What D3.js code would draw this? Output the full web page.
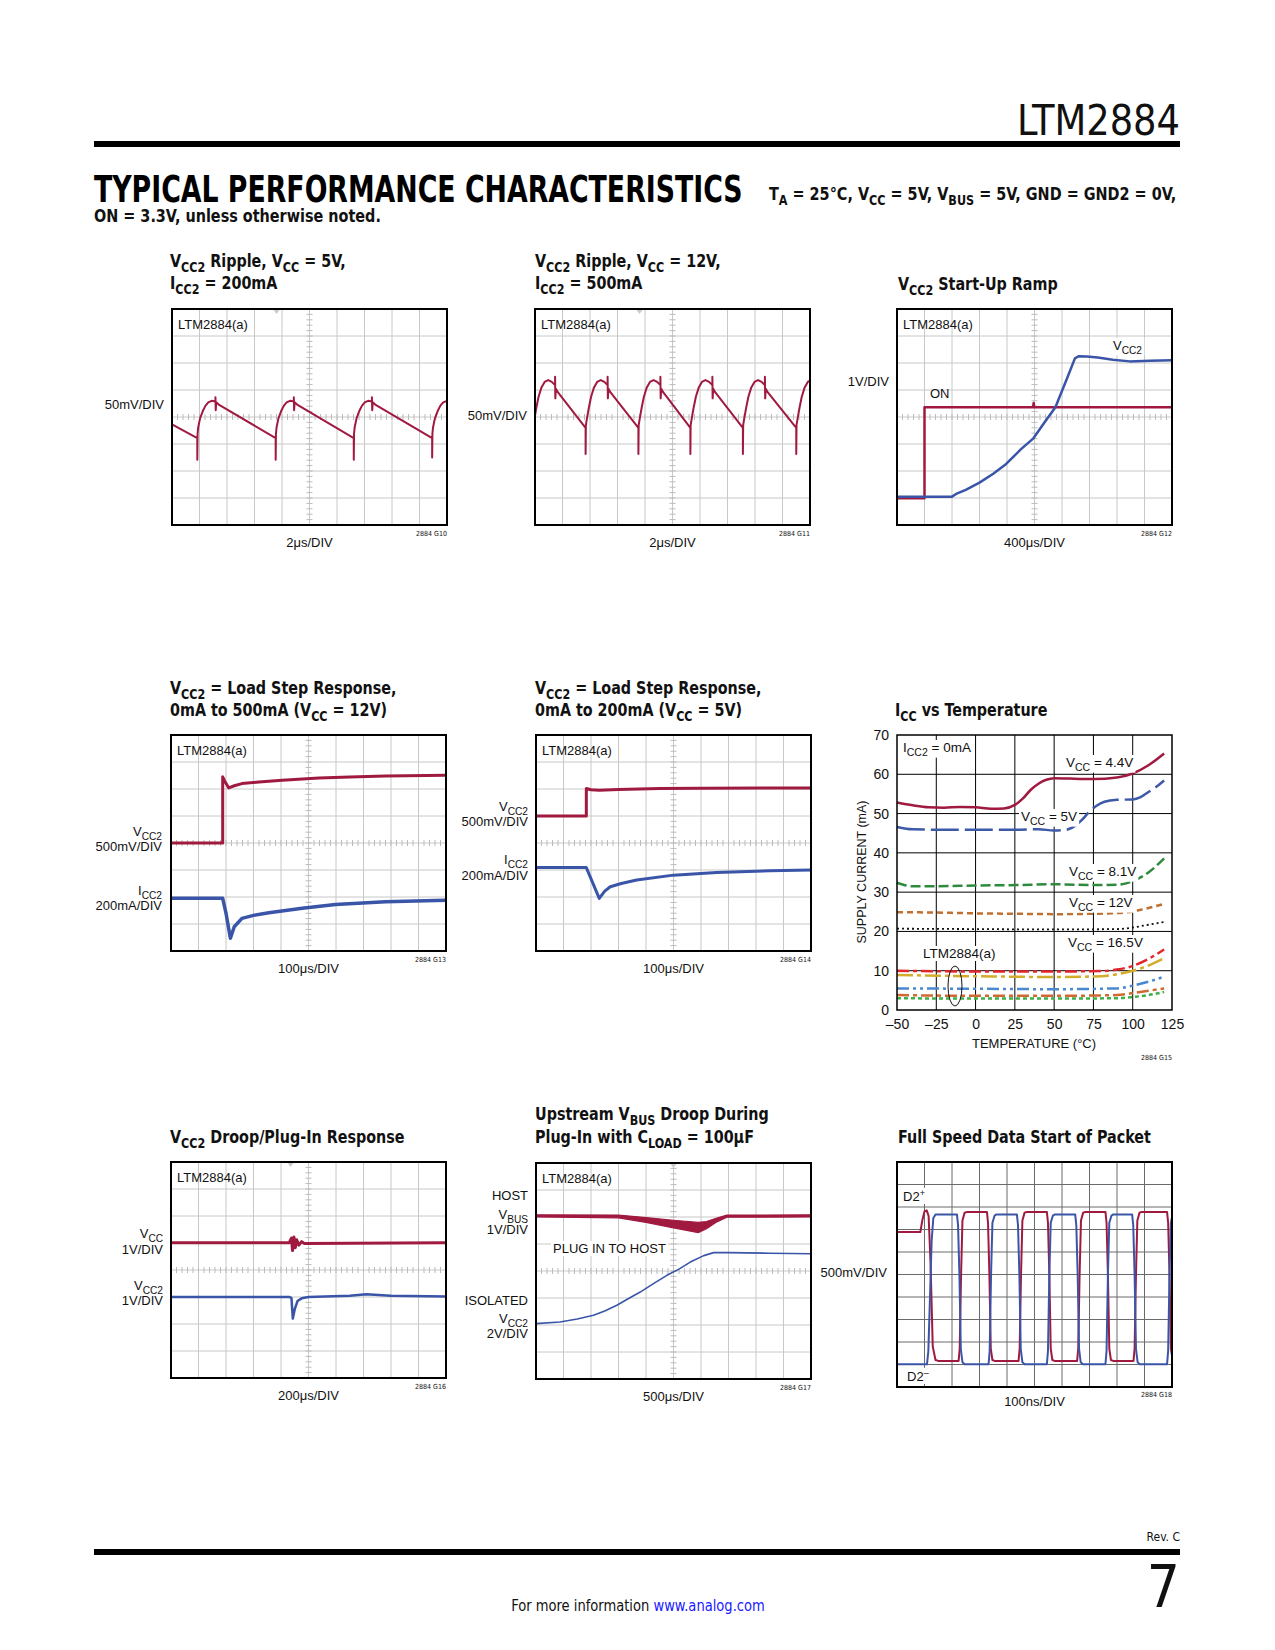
<!DOCTYPE html>
<html><head><meta charset="utf-8">
<script src="https://cdn.jsdelivr.net/npm/d3@7"></script>
<style>
body{margin:0;background:#fff;}
svg text{font-family:"Liberation Sans Narrow","DejaVu Sans Condensed","Liberation Sans",sans-serif;}
.lbl{font-family:"Liberation Sans","DejaVu Sans",sans-serif !important;}
</style></head><body>
<svg id="page" width="1275" height="1650"></svg>
<script>
// ---------------- DATA (x in divisions 0..10, y in divisions from centre) ----------------
const ripple5V = [[0,-0.27],
 [0.92,-0.78],[0.92,-1.58],[0.93,-0.62],[0.95,-0.4],[1.02,-0.05],[1.12,0.22],[1.22,0.42],[1.32,0.54],[1.44,0.6],[1.54,0.58],[1.58,0.56],[1.58,0.73],[1.59,0.25],[1.61,0.55],[1.70,0.46],
 [3.77,-0.78],[3.77,-1.58],[3.78,-0.62],[3.80,-0.4],[3.87,-0.05],[3.97,0.22],[4.07,0.42],[4.17,0.54],[4.29,0.6],[4.39,0.58],[4.43,0.56],[4.43,0.73],[4.44,0.25],[4.46,0.55],[4.55,0.46],
 [6.61,-0.78],[6.61,-1.58],[6.62,-0.62],[6.64,-0.4],[6.71,-0.05],[6.81,0.22],[6.91,0.42],[7.01,0.54],[7.13,0.6],[7.23,0.58],[7.27,0.56],[7.27,0.73],[7.28,0.25],[7.30,0.55],[7.39,0.46],
 [9.46,-0.78],[9.46,-1.5],[9.47,-0.62],[9.49,-0.4],[9.56,-0.05],[9.66,0.22],[9.76,0.42],[9.86,0.54],[10,0.6]];

const ripple12V = [[0,0.05],[0.05,0.35],[0.13,0.75],[0.23,1.08],[0.35,1.3],[0.48,1.37],[0.61,1.3],[0.73,1.18],[0.73,1.49],[0.74,0.69],[0.76,1.05],[0.83,0.92],
 [1.84,-0.4],[1.84,-1.37],[1.85,-0.3],[1.89,-0.05],[1.96,0.35],[2.04,0.75],[2.14,1.08],[2.26,1.3],[2.39,1.37],[2.52,1.3],[2.64,1.18],[2.64,1.49],[2.65,0.69],[2.67,1.05],[2.74,0.92],
 [3.76,-0.4],[3.76,-1.37],[3.77,-0.3],[3.81,-0.05],[3.88,0.35],[3.96,0.75],[4.06,1.08],[4.18,1.3],[4.31,1.37],[4.44,1.3],[4.56,1.18],[4.56,1.49],[4.57,0.69],[4.59,1.05],[4.66,0.92],
 [5.65,-0.4],[5.65,-1.37],[5.66,-0.3],[5.70,-0.05],[5.77,0.35],[5.85,0.75],[5.95,1.08],[6.07,1.3],[6.20,1.37],[6.33,1.3],[6.45,1.18],[6.45,1.49],[6.46,0.69],[6.48,1.05],[6.55,0.92],
 [7.56,-0.4],[7.56,-1.37],[7.57,-0.3],[7.61,-0.05],[7.68,0.35],[7.76,0.75],[7.86,1.08],[7.98,1.3],[8.11,1.37],[8.24,1.3],[8.36,1.18],[8.36,1.49],[8.37,0.69],[8.39,1.05],[8.46,0.92],
 [9.5,-0.4],[9.5,-1.37],[9.51,-0.3],[9.55,-0.05],[9.62,0.35],[9.70,0.75],[9.80,1.08],[9.92,1.3],[10,1.35]];

const startOn = [[0,-3.01],[1.0,-3.01],[1.0,0.36],[4.95,0.36],[4.97,0.52],[4.99,0.36],[10,0.36]];
const startVcc2 = [[0,-2.95],[2.0,-2.95],[2.15,-2.85],[2.5,-2.7],[3.0,-2.43],[3.5,-2.1],[3.97,-1.74],[4.5,-1.2],[4.96,-0.79],[5.4,-0.15],[5.76,0.36],[6.16,1.37],[6.47,2.17],[6.6,2.25],[6.9,2.24],[7.3,2.2],[7.85,2.12],[8.46,2.06],[9.2,2.08],[10,2.1]];

const step12Vcc2 = [[0,0],[1.88,0],[1.88,2.45],[1.95,2.3],[2.1,2.04],[2.3,2.12],[2.58,2.2],[3.2,2.26],[4.04,2.32],[5.38,2.41],[6.5,2.44],[7.8,2.48],[10,2.51]];
const step12Icc2 = [[0,-2.05],[1.88,-2.05],[2.0,-2.6],[2.16,-3.53],[2.3,-3.1],[2.58,-2.79],[3.0,-2.68],[3.56,-2.58],[4.77,-2.42],[5.98,-2.28],[7.8,-2.18],[10,-2.12]];

const step5Vcc2 = [[0,1.0],[1.83,1.0],[1.83,2.02],[2.0,1.97],[2.3,1.95],[3.0,1.98],[4.5,2.02],[6.0,2.03],[10,2.04]];
const step5Icc2 = [[0,-0.91],[1.83,-0.91],[2.3,-2.05],[2.5,-1.78],[2.7,-1.62],[3.1,-1.5],[3.66,-1.37],[5.0,-1.19],[6.57,-1.09],[8.5,-1.03],[10,-1.0]];

const droopVcc = [[0,1.01],[4.3,1.01],[4.38,1.18],[4.42,0.72],[4.47,1.22],[4.52,0.82],[4.57,1.12],[4.65,0.92],[4.75,1.05],[4.85,0.98],[10,1.01]];
const droopVcc2 = [[0,-1.0],[4.3,-1.0],[4.38,-1.03],[4.43,-1.8],[4.5,-1.45],[4.6,-1.15],[4.75,-1.05],[5.0,-1.0],[6.5,-0.95],[7.1,-0.9],[8.0,-0.95],[10,-0.98]];

const hostVbusUpper = [[0,2.08],[3,2.07],[4,1.98],[5,1.88],[5.9,1.8],[6.2,1.83],[6.58,1.96],[6.94,2.07],[10,2.08]];
const hostVbusLower = [[0,2.0],[3,1.97],[4,1.8],[5,1.6],[5.9,1.42],[6.2,1.57],[6.58,1.82],[6.94,1.99],[10,2.0]];
const isoVcc2 = [[0,-1.95],[0.87,-1.89],[1.5,-1.78],[2.09,-1.64],[2.5,-1.48],[2.94,-1.27],[3.4,-1.0],[3.79,-0.78],[4.3,-0.45],[4.76,-0.16],[5.2,0.07],[5.61,0.33],[6.1,0.57],[6.46,0.68],[7.0,0.68],[8.5,0.66],[10,0.64]];

const dataDplus = [[0,1.89],[0.85,1.89],[0.92,2.4],[1.0,2.8],[1.08,2.85],[1.15,2.6],[1.22,0.5],[1.3,-3.2],[1.4,-3.8],[1.5,-3.84],
 [2.24,-3.84],[2.28,-3.3],[2.33,0],[2.38,2.4],[2.46,2.75],[2.55,2.78],
 [3.27,2.78],[3.31,2.3],[3.36,0],[3.41,-3.3],[3.47,-3.8],[3.55,-3.84],
 [4.42,-3.84],[4.46,-3.3],[4.51,0],[4.56,2.4],[4.64,2.75],[4.72,2.78],
 [5.45,2.78],[5.49,2.3],[5.54,0],[5.59,-3.3],[5.65,-3.8],[5.73,-3.84],
 [6.55,-3.84],[6.59,-3.3],[6.64,0],[6.69,2.4],[6.77,2.75],[6.85,2.78],
 [7.58,2.78],[7.62,2.3],[7.67,0],[7.72,-3.3],[7.78,-3.8],[7.86,-3.84],
 [8.6,-3.84],[8.64,-3.3],[8.69,0],[8.74,2.4],[8.82,2.75],[8.9,2.78],
 [9.82,2.78],[9.86,2.3],[9.91,0],[9.96,-3.3],[10,-3.6]];
const dataDminus = [[0,-3.99],[1.09,-3.99],[1.14,-3.4],[1.2,-1],[1.26,1.5],[1.32,2.5],[1.4,2.67],
 [2.18,2.67],[2.22,2.2],[2.27,0],[2.32,-3.3],[2.38,-3.9],[2.46,-3.99],
 [3.33,-3.99],[3.37,-3.4],[3.42,0],[3.47,2.3],[3.55,2.62],[3.62,2.67],
 [4.36,2.67],[4.4,2.2],[4.45,0],[4.5,-3.3],[4.56,-3.9],[4.64,-3.99],
 [5.45,-3.99],[5.49,-3.4],[5.54,0],[5.59,2.3],[5.67,2.62],[5.74,2.67],
 [6.48,2.67],[6.52,2.2],[6.57,0],[6.62,-3.3],[6.68,-3.9],[6.76,-3.99],
 [7.58,-3.99],[7.62,-3.4],[7.67,0],[7.72,2.3],[7.8,2.62],[7.87,2.67],
 [8.55,2.67],[8.59,2.2],[8.64,0],[8.69,-3.3],[8.75,-3.9],[8.83,-3.99],
 [9.82,-3.99],[9.86,-3.4],[9.91,0],[9.96,2.3],[10,2.55]];

// Icc vs temperature: [temperature °C, supply current mA]
const iccVcc44 = [[-50,52.8],[-40,52.1],[-30,51.6],[-20,51.5],[-10,51.7],[0,51.6],[10,51.2],[18,51.3],[25,52.2],[30,53.8],[35,56],[40,57.6],[45,58.6],[50,59],[60,58.9],[75,58.8],[90,59.2],[100,60.2],[110,62.3],[120,65.3]];
const iccVcc5 = [[-50,46.6],[-40,46],[-25,45.9],[0,45.9],[25,45.9],[40,46],[50,45.7],[58,45.9],[63,46.8],[68,48.5],[72,50.3],[77,52],[82,53],[90,53.5],[100,53.6],[105,54.2],[110,55.5],[115,56.8],[120,58.4]];
const iccVcc81 = [[-50,32.4],[-40,31.5],[-25,31.5],[0,31.7],[25,31.8],[50,32],[75,31.8],[90,31.9],[100,32.8],[110,35],[120,38.6]];
const iccVcc12 = [[-50,24.9],[-25,24.8],[0,24.6],[25,24.5],[50,24.4],[75,24.5],[95,24.8],[105,25.5],[120,27]];
const iccVcc165 = [[-50,20.7],[0,20.6],[50,20.5],[90,20.6],[100,21],[110,21.7],[120,22.4]];
const iccA1 = [[-50,10],[0,9.8],[50,9.8],[80,9.9],[90,10.3],[100,11.2],[110,13],[120,15.4]];
const iccA2 = [[-50,8.9],[0,8.6],[50,8.4],[80,8.6],[90,9.1],[100,10],[110,11.3],[120,13.2]];
const iccA3 = [[-50,5.5],[0,5.4],[50,5.3],[90,5.5],[100,6.2],[110,7.2],[120,8.5]];
const iccA4 = [[-50,3.8],[0,3.6],[50,3.6],[90,3.8],[100,4.3],[110,4.9],[120,5.5]];
const iccA5 = [[-50,3.0],[0,2.9],[50,2.9],[90,3.0],[100,3.3],[110,3.8],[120,4.6]];
const tempTicks = [-50,-25,0,25,50,75,100,125];
const currentTicks = [0,10,20,30,40,50,60,70];

// ---------------- DRAWING ----------------
const RED = "#a01a40", BLUE = "#3a55a8";
const svg = d3.select("#page");
const TSCALE = 0.885;

function squeeze(t, x, s) { t.attr("transform", `translate(${x * (1 - s)},0) scale(${s},1)`); return t; }
function rich(sel, x, y, str, size, anchor, weight, cls) {
  const t = sel.append("text").attr("x", x).attr("y", y).attr("font-size", size)
    .attr("text-anchor", anchor || "start").attr("font-weight", weight || "normal").attr("fill", "#111");
  if (cls) t.attr("class", cls);
  const parts = str.split(/(_\{[^}]*\}|\^\{[^}]*\})/).filter(s => s.length);
  let shift = 0;
  parts.forEach(p => {
    let target = 0, txt = p, fs = null;
    if (p.startsWith("_{")) { target = size * 0.27; txt = p.slice(2, -1); fs = size * 0.78; }
    else if (p.startsWith("^{")) { target = -size * 0.4; txt = p.slice(2, -1); fs = size * 0.7; }
    const ts = t.append("tspan").attr("dy", target - shift).text(txt);
    if (fs) ts.attr("font-size", fs);
    shift = target;
  });
  return t;
}
function bg(textSel, pad) {
  const b = textSel.node().getBBox();
  const r = document.createElementNS("http://www.w3.org/2000/svg", "rect");
  textSel.node().parentNode.insertBefore(r, textSel.node());
  d3.select(r).attr("x", b.x - pad).attr("y", b.y).attr("width", b.width + 2 * pad)
    .attr("height", b.height).attr("fill", "#fff");
}

// Header
const hdr = svg.append("text").attr("x", 1180).attr("y", 135).attr("text-anchor", "end").attr("font-size", 43)
  .attr("fill", "#111").text("LTM2884");
squeeze(hdr, 1180, 163 / hdr.node().getBBox().width);
svg.append("rect").attr("x", 94).attr("y", 141).attr("width", 1086).attr("height", 6).attr("fill", "#000");
const big = svg.append("text").attr("x", 94).attr("y", 202).attr("font-size", 38).attr("font-weight", "bold")
  .attr("fill", "#000").text("TYPICAL PERFORMANCE CHARACTERISTICS");
squeeze(big, 94, 649 / big.node().getBBox().width);
squeeze(rich(svg, 769, 200, "T_{A} = 25°C, V_{CC} = 5V, V_{BUS} = 5V, GND = GND2 = 0V,", 17.5, "start", "bold"), 769, 0.915);
squeeze(rich(svg, 94, 222, "ON = 3.3V, unless otherwise noted.", 17.5, "start", "bold"), 94, 0.915);

// Footer
svg.append("text").attr("x", 1180).attr("y", 1541).attr("text-anchor", "end").attr("font-size", 12).attr("fill", "#111").text("Rev. C");
svg.append("rect").attr("x", 94).attr("y", 1549).attr("width", 1086).attr("height", 6).attr("fill", "#000");
svg.append("text").attr("x", 1180).attr("y", 1607).attr("text-anchor", "end").attr("font-size", 58).attr("fill", "#111").text("7");
const ft = svg.append("text").attr("x", 638).attr("y", 1611).attr("text-anchor", "middle").attr("font-size", 16).attr("fill", "#111");
ft.append("tspan").text("For more information ");
ft.append("tspan").attr("fill", "#1a1aff").text("www.analog.com");
squeeze(ft, 638, 0.91);

function title(x, y, str) { squeeze(rich(svg, x, y, str, 18, "start", "bold"), x, TSCALE); }

const W = 275;
function scope(c) {
  const g = svg.append("g");
  const ydiv = c.ydiv || 8;
  const x = d3.scaleLinear().domain([0, 10]).range([c.x, c.x + W]);
  const y = d3.scaleLinear().domain([-ydiv / 2, ydiv / 2]).range([c.y + c.h, c.y]);
  const gc = c.gridColor || "#c8c8c8";
  g.selectAll("line.vg").data(d3.range(1, 10)).join("line").attr("x1", d => x(d)).attr("x2", d => x(d))
    .attr("y1", c.y).attr("y2", c.y + c.h).attr("stroke", gc).attr("stroke-width", 1);
  g.selectAll("line.hg").data(d3.range(-ydiv / 2 + 1, ydiv / 2)).join("line").attr("y1", d => y(d)).attr("y2", d => y(d))
    .attr("x1", c.x).attr("x2", c.x + W).attr("stroke", gc).attr("stroke-width", 1);
  if (!c.noMinor) {
    g.selectAll("line.mx").data(d3.range(0, 50)).join("line").attr("x1", d => x(d * 0.2)).attr("x2", d => x(d * 0.2))
      .attr("y1", y(0) - 3).attr("y2", y(0) + 3).attr("stroke", "#bbb");
    g.selectAll("line.my").data(d3.range(0, ydiv * 5)).join("line").attr("y1", d => y(-ydiv / 2 + d * 0.2)).attr("y2", d => y(-ydiv / 2 + d * 0.2))
      .attr("x1", x(5) - 3).attr("x2", x(5) + 3).attr("stroke", "#bbb");
  }
  if (c.trig != null) {
    g.append("path").attr("d", `M${x(c.trig) - 3},${c.y + 1}L${x(c.trig) + 3},${c.y + 1}L${x(c.trig)},${c.y + 5}Z`).attr("fill", "#ccc");
  }
  const line = d3.line().x(d => x(d[0])).y(d => y(d[1]));
  (c.areas || []).forEach(a => {
    const lo = a.lower;
    const area = d3.area().x(d => x(d[0])).y1(d => y(d[1])).y0((d, i) => y(lo[i][1]));
    g.append("path").datum(a.upper).attr("d", area).attr("fill", a.color).attr("stroke", a.color).attr("stroke-width", 1.2);
  });
  c.traces.forEach(t => {
    g.append("path").datum(t.data).attr("d", line.curve(t.curve || d3.curveLinear)).attr("fill", "none")
      .attr("stroke", t.color).attr("stroke-width", t.w || 2).attr("stroke-linejoin", "round");
  });
  g.append("rect").attr("x", c.x).attr("y", c.y).attr("width", W).attr("height", c.h)
    .attr("fill", "none").attr("stroke", "#000").attr("stroke-width", 2);
  if (c.tag !== false) rich(g, c.x + 6, c.y + 20, "LTM2884(a)", 13, "start", "normal", "lbl");
  c.title.forEach((t, i) => title(c.tx, c.ty[i], t));
  rich(svg, c.x + W / 2, c.y + c.h + c.xlOff, c.xlab, 13, "middle", "normal", "lbl");
  svg.append("text").attr("x", c.x + W).attr("y", c.y + c.h + c.fnOff).attr("text-anchor", "end")
    .attr("font-size", 7).attr("fill", "#111").text("2884 " + c.id);
  (c.ylabels || []).forEach(l => rich(svg, c.x - (c.ylOff || 8), l[1], l[0], 13, "end", "normal", "lbl"));
  (c.inner || []).forEach(l => { const t = rich(g, l[0], l[1], l[2], 13, "start", "normal", "lbl"); if (l[3]) bg(t, 2); });
}

scope({ id: "G10", x: 172, y: 309, h: 216, tx: 170, ty: [267, 289], title: ["V_{CC2} Ripple, V_{CC} = 5V,", "I_{CC2} = 200mA"],
  xlab: "2μs/DIV", xlOff: 22, fnOff: 11, trig: 3.8, traces: [{ data: ripple5V, color: RED, w: 2 }], ylabels: [["50mV/DIV", 409]] });
scope({ id: "G11", x: 535, y: 309, h: 216, tx: 535, ty: [267, 289], title: ["V_{CC2} Ripple, V_{CC} = 12V,", "I_{CC2} = 500mA"],
  xlab: "2μs/DIV", xlOff: 22, fnOff: 11, trig: 3.8, traces: [{ data: ripple12V, color: RED, w: 2 }], ylabels: [["50mV/DIV", 420]] });
scope({ id: "G12", x: 897, y: 309, h: 216, tx: 898, ty: [290], title: ["V_{CC2} Start-Up Ramp"],
  xlab: "400μs/DIV", xlOff: 22, fnOff: 11, traces: [{ data: startOn, color: RED, w: 2.5 }, { data: startVcc2, color: BLUE, w: 2.5 }],
  ylabels: [["1V/DIV", 386]], inner: [[1113, 350, "V_{CC2}", true], [930, 398, "ON", false]] });
scope({ id: "G13", x: 171, y: 735, h: 216, tx: 170, ty: [694, 716], title: ["V_{CC2} = Load Step Response,", "0mA to 500mA (V_{CC} = 12V)"],
  xlab: "100μs/DIV", xlOff: 22, fnOff: 11, traces: [{ data: step12Vcc2, color: RED, w: 3 }, { data: step12Icc2, color: BLUE, w: 3.5 }],
  ylOff: 9, ylabels: [["V_{CC2}", 836], ["500mV/DIV", 851], ["I_{CC2}", 895], ["200mA/DIV", 910]] });
scope({ id: "G14", x: 536, y: 735, h: 216, tx: 535, ty: [694, 716], title: ["V_{CC2} = Load Step Response,", "0mA to 200mA (V_{CC} = 5V)"],
  xlab: "100μs/DIV", xlOff: 22, fnOff: 11, traces: [{ data: step5Vcc2, color: RED, w: 3 }, { data: step5Icc2, color: BLUE, w: 3 }],
  ylabels: [["V_{CC2}", 811], ["500mV/DIV", 826], ["I_{CC2}", 864], ["200mA/DIV", 880]] });
scope({ id: "G16", x: 171, y: 1162, h: 216, tx: 170, ty: [1143], title: ["V_{CC2} Droop/Plug-In Response"],
  xlab: "200μs/DIV", xlOff: 22, fnOff: 11, trig: 4.35, traces: [{ data: droopVcc, color: RED, w: 3 }, { data: droopVcc2, color: BLUE, w: 2.5 }],
  ylabels: [["V_{CC}", 1238], ["1V/DIV", 1254], ["V_{CC2}", 1290], ["1V/DIV", 1305]] });
scope({ id: "G17", x: 536, y: 1163, h: 216, tx: 535, ty: [1120, 1143], title: ["Upstream V_{BUS} Droop During", "Plug-In with C_{LOAD} = 100μF"],
  xlab: "500μs/DIV", xlOff: 22, fnOff: 11, trig: 5.0, areas: [{ upper: hostVbusUpper, lower: hostVbusLower, color: RED }],
  traces: [{ data: isoVcc2, color: BLUE, w: 1.6 }],
  ylabels: [["HOST", 1200], ["V_{BUS}", 1219], ["1V/DIV", 1234], ["ISOLATED", 1305], ["V_{CC2}", 1323], ["2V/DIV", 1338]],
  inner: [[553, 1253, "PLUG IN TO HOST", true]] });
scope({ id: "G18", x: 897, y: 1162, h: 225, ydiv: 10, tx: 898, ty: [1143], title: ["Full Speed Data Start of Packet"],
  xlab: "100ns/DIV", xlOff: 19, fnOff: 10, tag: false, noMinor: true, gridColor: "#6a6a6a",
  traces: [{ data: dataDplus, color: RED, w: 2 }, { data: dataDminus, color: BLUE, w: 2 }],
  ylOff: 10, ylabels: [["500mV/DIV", 1277]], inner: [[903, 1201, "D2^{+}", true], [907, 1381, "D2^{–}", true]] });

// ---- Icc vs Temperature ----
(function () {
  const g = svg.append("g");
  const x = d3.scaleLinear().domain([-50, 125]).range([897, 1172]);
  const y = d3.scaleLinear().domain([0, 70]).range([1010, 735]);
  g.selectAll("line.vx").data(tempTicks.slice(1, -1)).join("line").attr("x1", d => x(d)).attr("x2", d => x(d))
    .attr("y1", y(0)).attr("y2", y(70)).attr("stroke", "#000").attr("stroke-width", 1);
  g.selectAll("line.hy").data(currentTicks.slice(1, -1)).join("line").attr("y1", d => y(d)).attr("y2", d => y(d))
    .attr("x1", x(-50)).attr("x2", x(125)).attr("stroke", "#000").attr("stroke-width", 1);
  const series = [
    [iccVcc44, "#a01a40", null, 2.5], [iccVcc5, "#3d5aa8", "28,6", 2.5], [iccVcc81, "#2e8b3e", "10,4", 2.5],
    [iccVcc12, "#c07030", "6,4", 2.5], [iccVcc165, "#111", "2,3", 1.8],
    [iccA1, "#e3262b", "12,4,4,4", 2.5], [iccA2, "#d4ac2c", "16,4,4,4", 2.5], [iccA3, "#4a88d0", "12,4,3,4,3,4", 2.5],
    [iccA4, "#d06a30", "12,4,4,4", 2.5], [iccA5, "#3db04a", "4,3", 2.5]];
  const line = d3.line().x(d => x(d[0])).y(d => y(d[1])).curve(d3.curveMonotoneX);
  series.forEach(s => {
    const p = g.append("path").datum(s[0]).attr("d", line).attr("fill", "none").attr("stroke", s[1]).attr("stroke-width", s[3]);
    if (s[2]) p.attr("stroke-dasharray", s[2]);
  });
  g.append("rect").attr("x", x(-50)).attr("y", y(70)).attr("width", x(125) - x(-50)).attr("height", y(0) - y(70))
    .attr("fill", "none").attr("stroke", "#000").attr("stroke-width", 1.5);
  const xa = g.append("g").attr("transform", `translate(0,${y(0)})`)
    .call(d3.axisBottom(x).tickValues(tempTicks).tickSize(0).tickPadding(9).tickFormat(d => d < 0 ? "–" + Math.abs(d) : d));
  const ya = g.append("g").attr("transform", `translate(${x(-50)},0)`)
    .call(d3.axisLeft(y).tickValues(currentTicks).tickSize(0).tickPadding(8));
  [xa, ya].forEach(a => { a.select(".domain").remove(); a.selectAll("text").attr("class", "lbl").attr("font-size", 14).attr("fill", "#111"); });
  g.append("text").attr("class", "lbl").attr("x", 1034).attr("y", 1048).attr("text-anchor", "middle").attr("font-size", 13).attr("fill", "#111").text("TEMPERATURE (°C)");
  g.append("text").attr("class", "lbl").attr("transform", "translate(866,872) rotate(-90)").attr("text-anchor", "middle").attr("font-size", 12.5).attr("fill", "#111").text("SUPPLY CURRENT (mA)");
  svg.append("text").attr("x", 1172).attr("y", 1060).attr("text-anchor", "end").attr("font-size", 7).attr("fill", "#111").text("2884 G15");
  title(895, 716, "I_{CC} vs Temperature");
  [[903, 752, "I_{CC2} = 0mA"], [1066, 767, "V_{CC} = 4.4V"], [1021, 821, "V_{CC} = 5V"], [1069, 876, "V_{CC} = 8.1V"],
   [1069, 907, "V_{CC} = 12V"], [1068, 947, "V_{CC} = 16.5V"], [923, 958, "LTM2884(a)"]].forEach(l => {
    const t = rich(g, l[0], l[1], l[2], 13.5, "start", "normal", "lbl"); bg(t, 2);
  });
  g.append("ellipse").attr("cx", 955).attr("cy", 986).attr("rx", 7).attr("ry", 20).attr("fill", "none").attr("stroke", "#111").attr("stroke-width", 1);
})();
</script></body></html>
